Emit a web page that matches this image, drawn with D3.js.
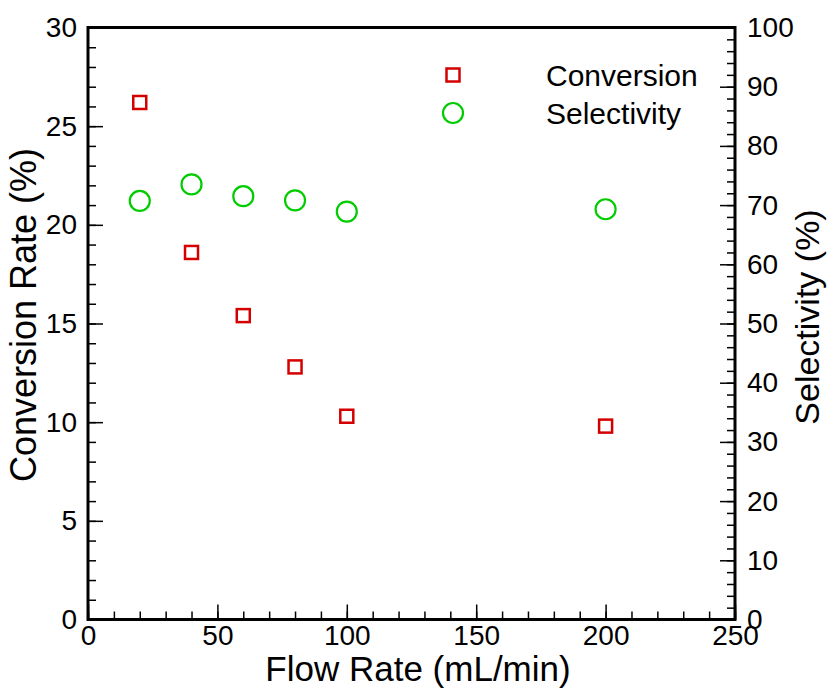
<!DOCTYPE html>
<html><head><meta charset="utf-8">
<script src="https://cdn.jsdelivr.net/npm/d3@7"></script>
<style>body{margin:0;background:#fff}svg{display:block}text{font-family:"Liberation Sans",Arial,sans-serif;fill:#000}</style>
</head><body>
<script>
const flowRates = [20, 40, 60, 80, 100, 200];
const conversion = [26.2, 18.6, 15.4, 12.8, 10.3, 9.8];
const selectivity = [70.7, 73.5, 71.5, 70.8, 68.9, 69.3];
const xTicks = [0, 50, 100, 150, 200, 250];
const yLeftTicks = [0, 5, 10, 15, 20, 25, 30];
const yRightTicks = [0, 10, 20, 30, 40, 50, 60, 70, 80, 90, 100];
const legendLabels = ["Conversion", "Selectivity"];

const W = 828, H = 688;
const m = {l: 88, r: 93, t: 27.5, b: 68.5};
const svg = d3.select("body").append("svg").attr("width", W).attr("height", H);
const x = d3.scaleLinear().domain([0, 250]).range([m.l, W - m.r]);
const yL = d3.scaleLinear().domain([0, 30]).range([H - m.b, m.t]);
const yR = d3.scaleLinear().domain([0, 100]).range([H - m.b, m.t]);

const fs = 28;
const xb = H - m.b;
const gx = svg.append("g").attr("transform", `translate(0,${xb})`);
gx.call(d3.axisTop(x).tickValues(d3.range(0, 251, 10)).tickSize(8).tickFormat(""));
gx.append("g").call(d3.axisTop(x).tickValues(xTicks).tickSize(15).tickFormat(""));
svg.append("g").attr("transform", `translate(0,${xb})`)
  .call(d3.axisBottom(x).tickValues(xTicks).tickSize(0).tickPadding(6).tickFormat(d3.format("d")));

const gl = svg.append("g").attr("transform", `translate(${m.l},0)`);
gl.call(d3.axisRight(yL).tickValues(d3.range(0, 30.01, 1)).tickSize(8).tickFormat(""));
gl.append("g").call(d3.axisRight(yL).tickValues(yLeftTicks).tickSize(15).tickFormat(""));
svg.append("g").attr("transform", `translate(${m.l},0)`)
  .call(d3.axisLeft(yL).tickValues(yLeftTicks).tickSize(0).tickPadding(11).tickFormat(d3.format("d")));

const xr = W - m.r;
const gr = svg.append("g").attr("transform", `translate(${xr},0)`);
gr.call(d3.axisLeft(yR).tickValues(d3.range(0, 100.01, 2)).tickSize(8).tickFormat(""));
gr.append("g").call(d3.axisLeft(yR).tickValues(yRightTicks).tickSize(15).tickFormat(""));
svg.append("g").attr("transform", `translate(${xr},0)`)
  .call(d3.axisRight(yR).tickValues(yRightTicks).tickSize(0).tickPadding(12).tickFormat(d3.format("d")));

svg.selectAll(".domain").remove();
svg.selectAll(".tick line").attr("stroke", "#000").attr("stroke-width", 1.5);
svg.selectAll(".tick text").attr("font-size", fs).attr("fill", "#000");

svg.append("rect").attr("x", m.l).attr("y", m.t).attr("width", xr - m.l).attr("height", xb - m.t)
  .attr("fill", "none").attr("stroke", "#000").attr("stroke-width", 3);

const pts = flowRates.map((f, i) => ({f, c: conversion[i], s: selectivity[i]}));
const sq = 13;
svg.append("g").selectAll("rect").data(pts).join("rect")
  .attr("x", d => x(d.f) - sq / 2).attr("y", d => yL(d.c) - sq / 2)
  .attr("width", sq).attr("height", sq)
  .attr("fill", "none").attr("stroke", "#d40000").attr("stroke-width", 2.5);
svg.append("g").selectAll("circle").data(pts).join("circle")
  .attr("cx", d => x(d.f)).attr("cy", d => yR(d.s)).attr("r", 10)
  .attr("fill", "none").attr("stroke", "#00cc00").attr("stroke-width", 2.2);

const lg = svg.append("g");
lg.append("rect").attr("x", 453 - sq / 2).attr("y", 75 - sq / 2).attr("width", sq).attr("height", sq)
  .attr("fill", "none").attr("stroke", "#d40000").attr("stroke-width", 2.5);
lg.append("circle").attr("cx", 453).attr("cy", 113).attr("r", 10)
  .attr("fill", "none").attr("stroke", "#00cc00").attr("stroke-width", 2.2);
lg.selectAll("text").data(legendLabels).join("text")
  .attr("x", 546).attr("y", (d, i) => 75 + i * 38).attr("dy", "0.35em")
  .attr("font-size", 30).text(d => d);

svg.append("text").attr("x", 418).attr("y", 681).attr("text-anchor", "middle")
  .attr("font-size", 35).text("Flow Rate (mL/min)");
svg.append("text").attr("transform", `translate(36,315) rotate(-90)`).attr("text-anchor", "middle")
  .attr("font-size", 36).text("Conversion Rate (%)");
svg.append("text").attr("transform", `translate(819,317) rotate(-90)`).attr("text-anchor", "middle")
  .attr("font-size", 34).text("Selectivity (%)");
</script>
</body></html>
